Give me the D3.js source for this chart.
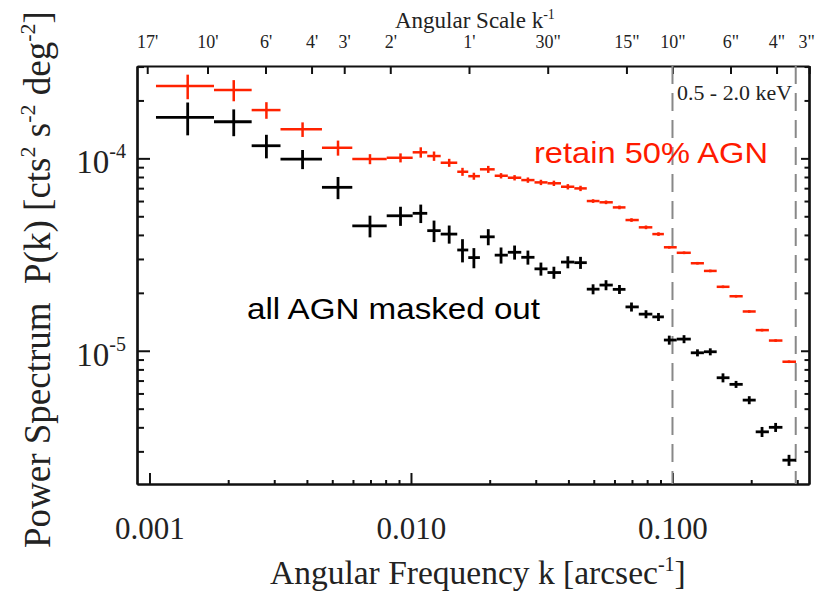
<!DOCTYPE html>
<html>
<head>
<meta charset="utf-8">
<script src="https://cdnjs.cloudflare.com/ajax/libs/d3/7.8.5/d3.min.js"></script>
<style>
body { margin: 0; background: #fff; }
svg text { font-family: "Liberation Serif", "Times New Roman", serif; fill: #222; }
</style>
</head>
<body>
<div class="chart"></div>
<script>
// Power spectrum, 0.5 - 2.0 keV

// bin centres and bin edges, k in arcsec^-1
var kMid = [0.00140, 0.00210, 0.00280, 0.00385, 0.00526, 0.00697, 0.00912, 0.0109, 0.01225, 0.0140,
  0.01574, 0.0174, 0.01975, 0.0221, 0.0249, 0.0280, 0.0314, 0.0352, 0.0398, 0.0445,
  0.0497, 0.0557, 0.0627, 0.0697, 0.0792, 0.0884, 0.0972, 0.1107, 0.1246, 0.1395,
  0.156, 0.175, 0.1966, 0.220, 0.248, 0.279];
var kEdges = [0.001059, 0.001765, 0.002459, 0.003170, 0.004567, 0.005965, 0.008075, 0.01015, 0.01154, 0.01299,
  0.01503, 0.01656, 0.01835, 0.02090, 0.02346, 0.02641, 0.02967, 0.03327, 0.03747, 0.04213,
  0.04702, 0.05259, 0.05912, 0.06612, 0.07432, 0.08374, 0.09271, 0.1038, 0.1175, 0.1319,
  0.1476, 0.1652, 0.1856, 0.2081, 0.2337, 0.2633, 0.2967];

// retain 50% AGN
var redP = [2.376e-4, 2.265e-4, 1.782e-4, 1.415e-4, 1.135e-4, 0.992e-4, 1.007e-4, 1.075e-4, 1.028e-4, 0.949e-4,
  0.852e-4, 0.808e-4, 0.877e-4, 0.812e-4, 0.793e-4, 0.771e-4, 0.750e-4, 0.742e-4, 0.712e-4, 0.698e-4,
  0.600e-4, 0.591e-4, 0.556e-4, 0.478e-4, 0.438e-4, 0.404e-4, 0.345e-4, 0.323e-4, 0.285e-4, 0.260e-4,
  0.215e-4, 0.192e-4, 0.160e-4, 0.128e-4, 0.113e-4, 0.0877e-4];
var redErr = [0.146, 0.126, 0.099, 0.087, 0.09, 0.06, 0.054, 0.062, 0.056, 0.048,
  0.048, 0.042, 0.042, 0.032, 0.032, 0.032, 0.032, 0.032, 0.032, 0.032,
  0.022, 0.022, 0.022, 0.022, 0.022, 0.022, 0.016, 0.016, 0.016, 0.016,
  0.016, 0.016, 0.016, 0.016, 0.016, 0.016];

// all AGN masked out
var blackP = [1.634e-4, 1.55e-4, 1.163e-4, 0.992e-4, 0.707e-4, 0.446e-4, 0.503e-4, 0.518e-4, 0.421e-4, 0.404e-4,
  0.334e-4, 0.305e-4, 0.391e-4, 0.314e-4, 0.325e-4, 0.306e-4, 0.2665e-4, 0.255e-4, 0.289e-4, 0.287e-4,
  0.209e-4, 0.2195e-4, 0.2085e-4, 0.169e-4, 0.155e-4, 0.150e-4, 0.1137e-4, 0.115e-4, 0.0976e-4, 0.0988e-4,
  0.0724e-4, 0.0669e-4, 0.0554e-4, 0.0379e-4, 0.040e-4, 0.027e-4];
var blackErr = [0.194, 0.159, 0.14, 0.114, 0.132, 0.129, 0.114, 0.11, 0.128, 0.108,
  0.138, 0.12, 0.096, 0.096, 0.084, 0.084, 0.078, 0.072, 0.072, 0.072,
  0.06, 0.06, 0.054, 0.054, 0.048, 0.048, 0.054, 0.048, 0.042, 0.042,
  0.054, 0.042, 0.048, 0.06, 0.054, 0.066];

// top axis: angular scale, arcsec
var angSec = [1020, 600, 360, 240, 180, 120, 60, 30, 15, 10, 6, 4, 3];
var angLabels = ["17'", "10'", "6'", "4'", "3'", "2'", "1'", "30\"", "15\"", "10\"", "6\"", "4\"", "3\""];

var xLabels = [0.001, 0.01, 0.1];
var yLabels = [1e-4, 1e-5];
var bandLimits = [0.1, 0.296];

var svgWidth = 816;
var svgHeight = 594;
var margin = { top: 66, right: 7, bottom: 110, left: 137 };
var width = svgWidth - margin.left - margin.right;
var height = svgHeight - margin.top - margin.bottom;

var svg = d3.select(".chart")
  .append("svg")
  .attr("width", svgWidth)
  .attr("height", svgHeight);

var chartGroup = svg.append("g")
  .attr("transform", `translate(${margin.left}, ${margin.top})`);

var xScale = d3.scaleLog().domain([0.000896, 0.3327]).range([0, width]);
var yScale = d3.scaleLog().domain([2.03e-6, 3.02e-4]).range([height, 0]);

// minor tick values
var xMinor = [];
[1e-3, 1e-2, 1e-1].forEach(function(d) {
  for (var i = 2; i <= 9; i++) xMinor.push(d * i);
});
xMinor = xMinor.filter(v => v <= 0.3327);
var yMinor = [];
[1e-6, 1e-5, 1e-4].forEach(function(d) {
  for (var i = 2; i <= 9; i++) yMinor.push(d * i);
});
yMinor = yMinor.filter(v => v >= 2.03e-6 && v <= 3.03e-4);

function styleAxis(g) {
  g.selectAll("path.domain").attr("stroke", "#111").attr("stroke-width", 2.2);
  g.selectAll(".tick line").attr("stroke", "#111").attr("stroke-width", 2);
}

// bottom axis
var bottomMinor = chartGroup.append("g")
  .attr("transform", `translate(0, ${height})`)
  .call(d3.axisBottom(xScale).tickValues(xMinor).tickSize(-4).tickSizeOuter(0).tickFormat(""));
styleAxis(bottomMinor);

var bottomAxis = chartGroup.append("g")
  .attr("transform", `translate(0, ${height})`)
  .call(d3.axisBottom(xScale).tickValues(xLabels).tickSize(-11).tickSizeOuter(0).tickFormat(d3.format(".3f")));
styleAxis(bottomAxis);
bottomAxis.selectAll("text")
  .attr("y", 55).attr("dy", null)
  .style("font-family", "Liberation Serif")
  .style("font-size", "31px")
  .style("fill", "#222");

// top axis, angular scale
var topAxis = chartGroup.append("g")
  .call(d3.axisTop(xScale).tickValues(angSec.map(s => 1 / s)).tickSize(-8).tickSizeOuter(0)
    .tickFormat((d, i) => angLabels[i]));
styleAxis(topAxis);
topAxis.selectAll("text")
  .attr("y", -18).attr("dy", null)
  .attr("x", (d, i) => i === angLabels.length - 1 ? -3 : 0)
  .style("font-family", "Liberation Serif")
  .style("font-size", "18px")
  .style("fill", "#222");

// left axis
var leftMinor = chartGroup.append("g")
  .call(d3.axisLeft(yScale).tickValues(yMinor).tickSize(-7).tickSizeOuter(0).tickFormat(""));
styleAxis(leftMinor);
var leftAxis = chartGroup.append("g")
  .call(d3.axisLeft(yScale).tickValues(yLabels).tickSize(-13).tickSizeOuter(0).tickFormat(""));
styleAxis(leftAxis);
leftAxis.selectAll(".tick").each(function(d) {
  var t = d3.select(this).append("text")
    .attr("x", -11)
    .attr("y", 14.5)
    .attr("text-anchor", "end")
    .style("font-family", "Liberation Serif")
    .style("font-size", "33px")
    .style("fill", "#222");
  t.append("tspan").text("10");
  t.append("tspan").attr("dy", -15).style("font-size", "20px").text(Math.round(Math.log10(d)));
});

// right axis
var rightMinor = chartGroup.append("g")
  .attr("transform", `translate(${width}, 0)`)
  .call(d3.axisRight(yScale).tickValues(yMinor).tickSize(-4.5).tickSizeOuter(0).tickFormat(""));
styleAxis(rightMinor);
var rightAxis = chartGroup.append("g")
  .attr("transform", `translate(${width}, 0)`)
  .call(d3.axisRight(yScale).tickValues(yLabels).tickSize(-8).tickSizeOuter(0).tickFormat(""));
styleAxis(rightAxis);

// energy band limits
chartGroup.selectAll(".band")
  .data(bandLimits)
  .enter()
  .append("line")
  .attr("x1", d => xScale(d))
  .attr("x2", d => xScale(d))
  .attr("y1", 0)
  .attr("y2", height)
  .attr("stroke", "#888")
  .attr("stroke-width", 2)
  .attr("stroke-dasharray", "18,9");

// error-bar crosses
function drawSeries(values, errs, color, sw) {
  var g = chartGroup.append("g");
  var pts = values.map((v, i) => ({ k: kMid[i], lo: kEdges[i], hi: kEdges[i + 1], p: v, e: errs[i] }));
  g.selectAll(".h").data(pts).enter().append("line")
    .attr("x1", d => xScale(d.lo))
    .attr("x2", d => xScale(d.hi))
    .attr("y1", d => yScale(d.p))
    .attr("y2", d => yScale(d.p))
    .attr("stroke", color)
    .attr("stroke-width", sw);
  g.selectAll(".v").data(pts).enter().append("line")
    .attr("x1", d => xScale(d.k))
    .attr("x2", d => xScale(d.k))
    .attr("y1", d => yScale(d.p * (1 - d.e)))
    .attr("y2", d => yScale(d.p * (1 + d.e)))
    .attr("stroke", color)
    .attr("stroke-width", sw);
}
drawSeries(redP, redErr, "#ff2200", 2.5);
drawSeries(blackP, blackErr, "#000", 2.8);

// annotations
svg.append("text")
  .attr("x", 677).attr("y", 99.5)
  .attr("textLength", 115).attr("lengthAdjust", "spacingAndGlyphs")
  .style("font-size", "20px")
  .text("0.5 - 2.0 keV");

svg.append("text")
  .attr("x", 534).attr("y", 163)
  .attr("textLength", 234).attr("lengthAdjust", "spacingAndGlyphs")
  .style("font-family", "Liberation Sans, Arial, sans-serif")
  .style("font-size", "30px")
  .style("fill", "#ff1a00")
  .text("retain 50% AGN");

svg.append("text")
  .attr("x", 247).attr("y", 318.5)
  .attr("textLength", 293).attr("lengthAdjust", "spacingAndGlyphs")
  .style("font-family", "Liberation Sans, Arial, sans-serif")
  .style("font-size", "30px")
  .style("fill", "#000")
  .text("all AGN masked out");

// axis titles
var xTitle = svg.append("text")
  .attr("x", 270).attr("y", 584)
  .style("font-size", "33.5px");
xTitle.append("tspan").text("Angular Frequency k [arcsec");
xTitle.append("tspan").attr("dy", -13).style("font-size", "20px").text("-1");
xTitle.append("tspan").attr("dy", 13).text("]");

var topTitle = svg.append("text")
  .attr("x", 395).attr("y", 27.5)
  .style("font-size", "23px");
topTitle.append("tspan").text("Angular Scale k");
topTitle.append("tspan").attr("dy", -9).style("font-size", "14px").text("-1");

var yTitle = svg.append("text")
  .attr("transform", "translate(50, 548) rotate(-90)")
  .style("font-size", "37px");
yTitle.append("tspan").text("Power Spectrum\u00a0 P(k) [cts");
yTitle.append("tspan").attr("dy", -15).style("font-size", "22px").text("2");
yTitle.append("tspan").attr("dy", 15).text(" s");
yTitle.append("tspan").attr("dy", -15).style("font-size", "22px").text("-2");
yTitle.append("tspan").attr("dy", 15).text(" deg");
yTitle.append("tspan").attr("dy", -15).style("font-size", "22px").text("-2");
yTitle.append("tspan").attr("dy", 15).text("]");
</script>
</body>
</html>
